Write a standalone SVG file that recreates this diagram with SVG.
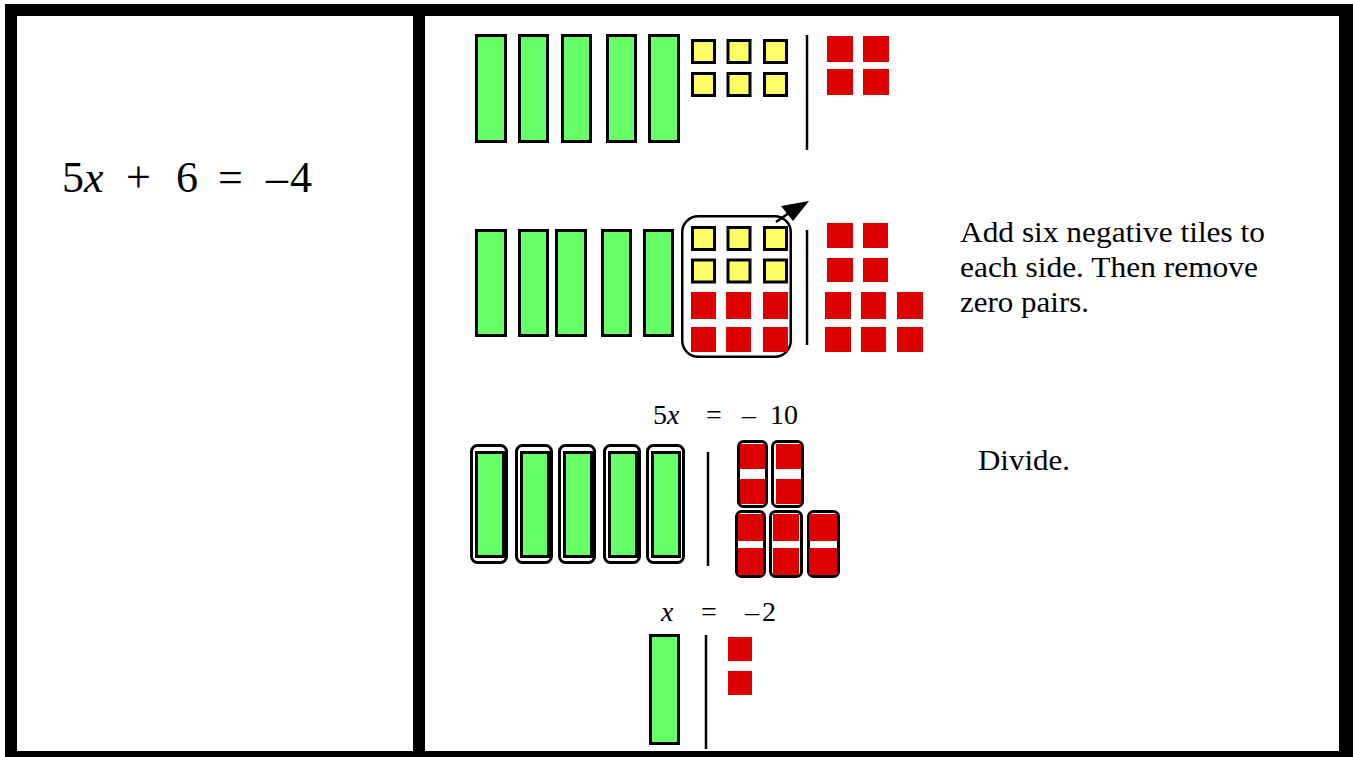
<svg xmlns="http://www.w3.org/2000/svg" width="1353" height="757" viewBox="0 0 1353 757">
<style>
.g{fill:#66FF66;stroke:#000;stroke-width:3}
.y{fill:#FFFF66;stroke:#000;stroke-width:3}
.r{fill:#DD0000}
.ln{stroke:#000;stroke-width:2.5;fill:none}
.grp{fill:#fff;stroke:#000;stroke-width:3}
.t{font-family:"Liberation Serif","Times New Roman",serif;fill:#000}
.i{font-style:italic}
</style>
<rect x="0" y="0" width="1353" height="757" fill="#fff"/>
<g id="frame" fill="#000">
<rect x="5" y="4" width="1348" height="12"/>
<rect x="5" y="751" width="1348" height="6"/>
<rect x="5" y="4" width="12" height="753"/>
<rect x="413" y="4" width="12" height="753"/>
<rect x="1339" y="4" width="14" height="753"/>
</g>
<g id="equation">
<text class="t" font-size="44" y="192"><tspan x="62">5</tspan><tspan class="i" x="84">x</tspan><tspan x="126">+</tspan><tspan x="176">6</tspan><tspan x="218">=</tspan><tspan x="266">–</tspan><tspan x="290">4</tspan></text>
</g>
<g id="row1">
<rect class="g" x="476.5" y="35.5" width="29" height="106"/>
<rect class="g" x="519.5" y="35.5" width="28" height="106"/>
<rect class="g" x="562.5" y="35.5" width="28" height="106"/>
<rect class="g" x="607.5" y="35.5" width="28" height="106"/>
<rect class="g" x="649.5" y="35.5" width="29" height="106"/>
<rect class="y" x="692.5" y="40.5" width="22" height="22"/>
<rect class="y" x="728" y="40.5" width="22" height="22"/>
<rect class="y" x="764.5" y="40.5" width="22" height="22"/>
<rect class="y" x="692.5" y="73.5" width="22" height="22"/>
<rect class="y" x="728" y="73.5" width="22" height="22"/>
<rect class="y" x="764.5" y="73.5" width="22" height="22"/>
<line class="ln" x1="807" y1="35" x2="807" y2="150"/>
<rect class="r" x="827" y="36" width="26" height="26"/>
<rect class="r" x="863" y="36" width="26" height="26"/>
<rect class="r" x="827" y="69" width="26" height="26"/>
<rect class="r" x="863" y="69" width="26" height="26"/>
</g>
<g id="row2">
<rect class="g" x="476.5" y="230.5" width="29" height="105"/>
<rect class="g" x="519.5" y="230.5" width="28" height="105"/>
<rect class="g" x="556.5" y="230.5" width="29" height="105"/>
<rect class="g" x="602.5" y="230.5" width="28" height="105"/>
<rect class="g" x="644.5" y="230.5" width="28" height="105"/>
<rect x="682.25" y="216.25" width="108.5" height="140.5" rx="16" fill="#fff" stroke="#000" stroke-width="2.5"/>
<rect class="y" x="692.5" y="227.5" width="22" height="22"/>
<rect class="y" x="728" y="227.5" width="22" height="22"/>
<rect class="y" x="764.5" y="227.5" width="22" height="22"/>
<rect class="y" x="692.5" y="260" width="22" height="22"/>
<rect class="y" x="728" y="260" width="22" height="22"/>
<rect class="y" x="764.5" y="260" width="22" height="22"/>
<rect class="r" x="691" y="292" width="25" height="27"/>
<rect class="r" x="726" y="292" width="25" height="27"/>
<rect class="r" x="763" y="292" width="25" height="27"/>
<rect class="r" x="691" y="327" width="25" height="25"/>
<rect class="r" x="726" y="327" width="25" height="25"/>
<rect class="r" x="763" y="327" width="25" height="25"/>
<line class="ln" x1="807" y1="230" x2="807" y2="345"/>
<rect class="r" x="827" y="223" width="26" height="25"/>
<rect class="r" x="863" y="223" width="25" height="25"/>
<rect class="r" x="827" y="258" width="26" height="24"/>
<rect class="r" x="863" y="258" width="25" height="24"/>
<rect class="r" x="825" y="292" width="26" height="27"/>
<rect class="r" x="861" y="292" width="25" height="27"/>
<rect class="r" x="897" y="292" width="26" height="27"/>
<rect class="r" x="825" y="327" width="26" height="25"/>
<rect class="r" x="861" y="327" width="25" height="25"/>
<rect class="r" x="897" y="327" width="26" height="25"/>
</g>
<g id="connectors">
<line x1="776" y1="222" x2="789" y2="213" stroke="#000" stroke-width="2.5"/>
<polygon points="809,201 781,206 793,221" fill="#000"/>
</g>
<g id="instructions">
<text class="t" font-size="29" x="960" y="242" textLength="305" lengthAdjust="spacingAndGlyphs">Add six negative tiles to</text>
<text class="t" font-size="29" x="960" y="277" textLength="298" lengthAdjust="spacingAndGlyphs">each side. Then remove</text>
<text class="t" font-size="29" x="960" y="312" textLength="129" lengthAdjust="spacingAndGlyphs">zero pairs.</text>
<text class="t" font-size="29" x="978" y="470" textLength="92" lengthAdjust="spacingAndGlyphs">Divide.</text>
</g>
<g id="row3">
<text class="t" font-size="28" y="424"><tspan x="653">5</tspan><tspan class="i" x="667">x</tspan><tspan x="706">=</tspan><tspan x="742">–</tspan><tspan x="770">10</tspan></text>
<rect class="grp" x="471.5" y="445.5" width="35" height="117" rx="6"/>
<rect class="g" x="476.5" y="452.5" width="27" height="104"/>
<rect class="grp" x="516.5" y="445.5" width="35" height="117" rx="6"/>
<rect class="g" x="521.5" y="452.5" width="27" height="104"/>
<rect class="grp" x="559.5" y="445.5" width="35" height="117" rx="6"/>
<rect class="g" x="564.5" y="452.5" width="27" height="104"/>
<rect class="grp" x="604.5" y="445.5" width="35" height="117" rx="6"/>
<rect class="g" x="609.5" y="452.5" width="27" height="104"/>
<rect class="grp" x="647.5" y="445.5" width="36" height="117" rx="6"/>
<rect class="g" x="652.5" y="452.5" width="27" height="104"/>
<line class="ln" x1="708" y1="452" x2="708" y2="566"/>
<rect class="grp" x="738.5" y="441.5" width="28" height="65" rx="5"/>
<rect class="r" x="740" y="444" width="25" height="25"/>
<rect class="r" x="740" y="479" width="25" height="25"/>
<rect class="grp" x="772.5" y="441.5" width="30" height="65" rx="5"/>
<rect class="r" x="776" y="444" width="25" height="25"/>
<rect class="r" x="776" y="479" width="25" height="25"/>
<rect class="grp" x="736.5" y="511.5" width="28" height="65" rx="5"/>
<rect class="r" x="738" y="514" width="25" height="27"/>
<rect class="r" x="738" y="548" width="25" height="27"/>
<rect class="grp" x="770.5" y="511.5" width="31" height="65" rx="5"/>
<rect class="r" x="773" y="514" width="26" height="27"/>
<rect class="r" x="773" y="548" width="26" height="27"/>
<rect class="grp" x="808.5" y="511.5" width="30" height="65" rx="5"/>
<rect class="r" x="809" y="514" width="28" height="27"/>
<rect class="r" x="809" y="548" width="28" height="27"/>
</g>
<g id="row4">
<text class="t" font-size="28" y="621"><tspan class="i" x="661">x</tspan><tspan x="701">=</tspan><tspan x="745">–</tspan><tspan x="762">2</tspan></text>
<rect class="g" x="650.5" y="635.5" width="28" height="108"/>
<line class="ln" x1="706" y1="635" x2="706" y2="749"/>
<rect class="r" x="728" y="637" width="24" height="24"/>
<rect class="r" x="728" y="671" width="24" height="24"/>
</g>
</svg>
